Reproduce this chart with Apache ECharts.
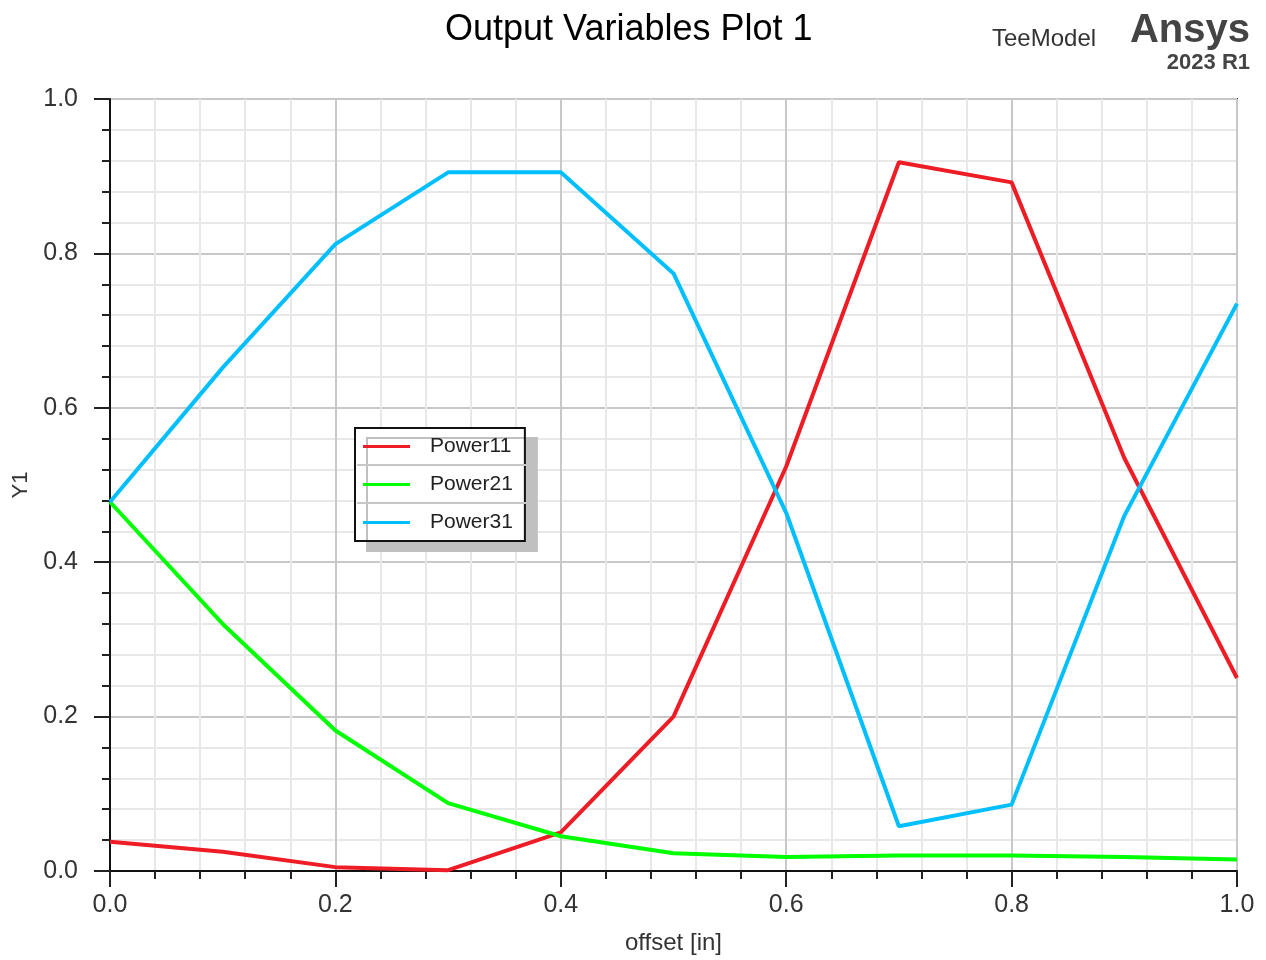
<!DOCTYPE html>
<html>
<head>
<meta charset="utf-8">
<script src="https://cdn.jsdelivr.net/npm/echarts@6/dist/echarts.min.js"></script>
<style>
html,body{margin:0;padding:0;background:#fff;}
#chart{width:1266px;height:960px;}
</style>
</head>
<body>
<div id="chart"></div>
<script>
const offsets = [0.0, 0.1, 0.2, 0.3, 0.4, 0.5, 0.6, 0.7, 0.8, 0.9, 1.0];
const power11 = [0.038, 0.025, 0.005, 0.001, 0.050, 0.200, 0.524, 0.918, 0.892, 0.535, 0.250];
const power21 = [0.478, 0.320, 0.182, 0.088, 0.045, 0.023, 0.018, 0.020, 0.020, 0.018, 0.015];
const power31 = [0.478, 0.652, 0.812, 0.905, 0.905, 0.774, 0.464, 0.058, 0.086, 0.460, 0.735];
const seriesNames = ['Power11', 'Power21', 'Power31'];
const seriesColors = ['#ee1c25', '#00ff00', '#00bfff'];
const titleText = 'Output Variables Plot 1';
const xName = 'offset [in]';
const yName = 'Y1';

const chart = echarts.init(document.getElementById('chart'), null, {renderer: 'canvas'});
const font = 'Liberation Sans, Arial, sans-serif';

function pairs(ys) { return offsets.map((x, i) => [x, ys[i]]); }

const axisCommon = {
  type: 'value', min: 0, max: 1, interval: 0.2,
  axisLine: {show: true, lineStyle: {color: '#111', width: 2}},
  axisTick: {show: true, inside: false, length: 16, lineStyle: {color: '#222', width: 2}},
  minorTick: {show: true, splitNumber: 5, length: 8, lineStyle: {color: '#222', width: 2}},
  splitLine: {show: true, lineStyle: {color: '#c8c8c8', width: 2}},
  minorSplitLine: {show: true, lineStyle: {color: '#e8e8e8', width: 2}},
  axisLabel: {color: '#333', fontFamily: font, fontSize: 25, formatter: v => v.toFixed(1)}
};

const option = {
  backgroundColor: '#fff',
  animation: false,
  title: {
    text: titleText, left: 440, top: 7,
    textStyle: {fontFamily: font, fontSize: 36, fontWeight: 'normal', color: '#000'}
  },
  grid: {left: 110, right: 29, top: 99, bottom: 86, show: true, borderColor: '#333', borderWidth: 2, backgroundColor: 'transparent'},
  xAxis: Object.assign({}, axisCommon, {
    name: xName, nameLocation: 'middle', nameGap: 60,
    nameTextStyle: {color: '#333', fontFamily: font, fontSize: 24},
    axisLabel: Object.assign({}, axisCommon.axisLabel, {margin: 22})
  }),
  yAxis: Object.assign({}, axisCommon, {
    name: yName, nameLocation: 'middle', nameGap: 73,
    nameTextStyle: {color: '#333', fontFamily: font, fontSize: 22},
    axisLabel: Object.assign({}, axisCommon.axisLabel, {margin: 32})
  }),
  legend: {
    orient: 'vertical', left: 355, top: 428,
    data: seriesNames,
    icon: 'rect', itemWidth: 47, itemHeight: 3, itemGap: 17,
    padding: [8, 12, 8, 8],
    backgroundColor: '#fff', borderColor: '#111', borderWidth: 2,
    shadowColor: '#c0c0c0', shadowBlur: 0, shadowOffsetX: 12, shadowOffsetY: 10,
    textStyle: {fontFamily: font, fontSize: 21, color: '#222', padding: [0, 0, 0, 15]}
  },
  graphic: [
    {type: 'line', z: 100, shape: {x1: 357, y1: 465, x2: 526, y2: 465}, style: {stroke: '#c8c8c8', lineWidth: 2}},
    {type: 'line', z: 100, shape: {x1: 357, y1: 503, x2: 526, y2: 503}, style: {stroke: '#c8c8c8', lineWidth: 2}},
    {type: 'text', left: 992, top: 27, style: {text: 'TeeModel', font: '24px Liberation Sans, Arial, sans-serif', fill: '#333'}},
    {type: 'text', right: 16, top: 11, style: {text: 'Ansys', font: 'bold 40px Liberation Sans, Arial, sans-serif', fill: '#444'}},
    {type: 'text', right: 16, top: 52, style: {text: '2023 R1', font: 'bold 22px Liberation Sans, Arial, sans-serif', fill: '#444'}}
  ],
  series: [
    {name: seriesNames[0], type: 'line', data: pairs(power11), symbol: 'none', lineStyle: {color: seriesColors[0], width: 4}, itemStyle: {color: seriesColors[0]}},
    {name: seriesNames[1], type: 'line', data: pairs(power21), symbol: 'none', lineStyle: {color: seriesColors[1], width: 4}, itemStyle: {color: seriesColors[1]}},
    {name: seriesNames[2], type: 'line', data: pairs(power31), symbol: 'none', lineStyle: {color: seriesColors[2], width: 4}, itemStyle: {color: seriesColors[2]}}
  ]
};
chart.setOption(option);
</script>
</body>
</html>
